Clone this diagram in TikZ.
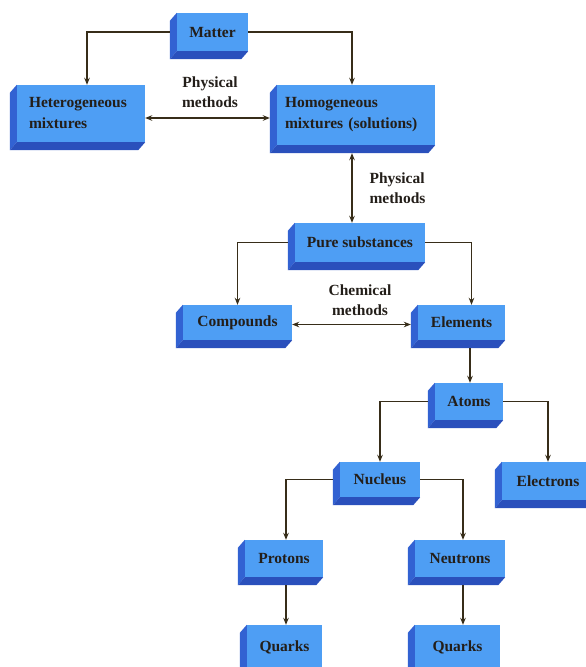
\documentclass[tikz,border=0pt]{standalone}
\usepackage{fontspec}
\setmainfont{Liberation Serif}
\usetikzlibrary{arrows.meta,calc,backgrounds}

\definecolor{blockfront}{RGB}{78,158,244}
\definecolor{blockside}{RGB}{50,98,210}
\definecolor{blockbottom}{RGB}{42,80,188}
\definecolor{linkcol}{RGB}{55,45,25}
\definecolor{textcol}{RGB}{35,30,25}

\tikzset{
  block/.style={fill=blockfront, inner sep=0pt, text=textcol,
    font=\fontsize{15.5}{21}\selectfont\bfseries},
  wideblock/.style={block, align=left},
  link/.style={draw=linkcol, line width=1.7pt, -{Stealth[length=7pt,width=5.5pt]}},
  twoway/.style={link, {Stealth[length=7pt,width=5.5pt]}-{Stealth[length=7pt,width=5.5pt]}},
  note/.style={text=textcol, font=\fontsize{15.5}{20}\selectfont\bfseries}
}

\begin{document}
\begin{tikzpicture}[x=1pt,y=-1pt]
  \useasboundingbox (0,0) rectangle (586,667);

  % the blocks (front faces)
  \node[block, minimum width=71pt, minimum height=38pt] (matter) at (212.5,32) {Matter};
  \node[wideblock, inner xsep=12pt, text width=104pt, minimum height=57pt] (hetero) at (81,113.5) {Heterogeneous\\mixtures};
  \node[wideblock, inner xsep=8pt, text width=142pt, minimum height=60pt] (homo) at (356,115) {Homogeneous\\mixtures (solutions)};
  \node[block, minimum width=130pt, minimum height=39pt] (pure) at (360,242.5) {Pure substances};
  \node[block, minimum width=109pt, minimum height=35pt] (compounds) at (237.5,322.5) {Compounds};
  \node[block, minimum width=87pt, minimum height=35pt] (elements) at (461.5,322.5) {Elements};
  \node[block, minimum width=68pt, minimum height=37pt] (atoms) at (469,401.5) {Atoms};
  \node[block, minimum width=80pt, minimum height=35pt] (nucleus) at (380,479.5) {Nucleus};
  \node[block, minimum width=92pt, minimum height=38pt] (electrons) at (548,481) {Electrons};
  \node[block, minimum width=78pt, minimum height=37pt] (protons) at (284,558.5) {Protons};
  \node[block, minimum width=90pt, minimum height=37pt] (neutrons) at (460,558.5) {Neutrons};
  \node[block, minimum width=75pt, minimum height=44pt] (quarksa) at (284.5,647) {Quarks};
  \node[block, minimum width=85pt, minimum height=44pt] (quarksb) at (457.5,647) {Quarks};

  % side and bottom faces
  \begin{scope}[on background layer]
    \foreach \b in {matter,hetero,homo,pure,compounds,elements,atoms,nucleus,electrons,protons,neutrons,quarksa,quarksb} {
      \fill[blockside] (\b.north west) -- ++(-7,8) -- ($(\b.south west)+(-7,8)$) -- (\b.south west) -- cycle;
      \fill[blockbottom] (\b.south west) -- ++(-7,8) -- ($(\b.south east)+(-7,8)$) -- (\b.south east) -- cycle;
    }
  \end{scope}

  % labels on the two-way links
  \node[note, align=center] (phys1) at (210,92) {Physical\\methods};
  \node[note, align=left, anchor=west] (phys2) at (366,188) {Physical\\methods};
  \node[note, align=center] (chem) at (360,300) {Chemical\\methods};

  % links
  \draw[link] ([xshift=-7pt]matter.west) -| ([xshift=6pt]hetero.north);
  \draw[link] (matter.east) -| ([xshift=-4pt]homo.north);
  \draw[twoway] ($(hetero.east)+(0,4.5)$) -- ($(hetero.east -| homo.west)+(-7,4.5)$);
  \draw[twoway] ($(pure.north |- homo.south)+(-8,8)$) -- ([xshift=-8pt]pure.north);
  \draw[link] ([xshift=-7pt]pure.west) -| (compounds.north);
  \draw[link] (pure.east) -| ([xshift=10pt]elements.north);
  \draw[twoway] ($(compounds.east)+(0,2)$) -- ($(compounds.east -| elements.west)+(-7,2)$);
  \draw[link] ($(atoms.north |- elements.south)+(1,8)$) -- ([xshift=1pt]atoms.north);
  \draw[link] ([xshift=-7pt]atoms.west) -| (nucleus.north);
  \draw[link] (atoms.east) -| (electrons.north);
  \draw[link] ([xshift=-7pt]nucleus.west) -| ([xshift=2pt]protons.north);
  \draw[link] (nucleus.east) -| ([xshift=3pt]neutrons.north);
  \draw[link] ($(protons.south)+(2,8)$) -- ([xshift=1.5pt]quarksa.north);
  \draw[link] ($(neutrons.south)+(3,8)$) -- ([xshift=5.5pt]quarksb.north);
\end{tikzpicture}
\end{document}
